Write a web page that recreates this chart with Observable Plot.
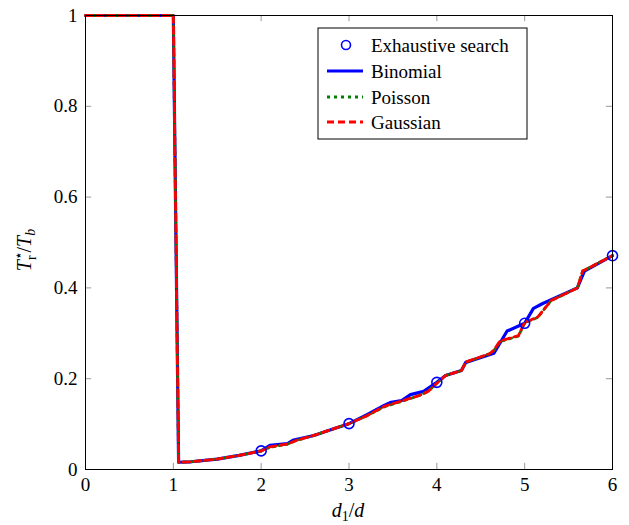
<!DOCTYPE html>
<html>
<head>
<meta charset="utf-8">
<script src="https://cdn.jsdelivr.net/npm/d3@7"></script>
<script src="https://cdn.jsdelivr.net/npm/@observablehq/plot@0.6"></script>
<style>
  html, body { margin: 0; padding: 0; background: #fff; }
  svg text { font-family: "Liberation Serif", "DejaVu Serif", serif !important; }
</style>
</head>
<body>
<div id="chart"></div>
<script>
const xTicks = [0, 1, 2, 3, 4, 5, 6];
const yTicks = [0, 0.2, 0.4, 0.6, 0.8, 1];

const exhaustiveX = [2, 3, 4, 5, 6];
const exhaustiveY = [0.041, 0.101, 0.192, 0.322, 0.471];

const binomialX = [0, 1, 1.06, 1.2, 1.5, 1.75, 2.0, 2.1, 2.3, 2.37, 2.6, 2.8, 3.0, 3.2, 3.4, 3.48, 3.6, 3.7, 3.85, 4.0, 4.1, 4.28, 4.33, 4.65, 4.8, 5.0, 5.1, 5.2, 5.6, 5.68, 6.0];
const binomialY = [1, 1, 0.016, 0.017, 0.023, 0.031, 0.041, 0.053, 0.057, 0.065, 0.075, 0.088, 0.101, 0.12, 0.141, 0.148, 0.152, 0.165, 0.172, 0.192, 0.207, 0.218, 0.236, 0.256, 0.305, 0.322, 0.355, 0.365, 0.40, 0.437, 0.471];

const poissonX = [0, 1, 1.06, 1.2, 1.5, 1.75, 2.0, 2.1, 2.3, 2.4, 2.6, 2.8, 3.0, 3.2, 3.4, 3.6, 3.8, 3.9, 4.0, 4.1, 4.28, 4.33, 4.6, 4.65, 4.72, 4.93, 5.0, 5.15, 5.25, 5.3, 5.6, 5.66, 6.0];
const poissonY = [1, 1, 0.016, 0.017, 0.023, 0.031, 0.041, 0.049, 0.056, 0.064, 0.075, 0.088, 0.101, 0.118, 0.138, 0.150, 0.163, 0.172, 0.19, 0.207, 0.218, 0.236, 0.255, 0.262, 0.282, 0.294, 0.323, 0.335, 0.36, 0.372, 0.40, 0.437, 0.471];

const gaussianX = [0, 1, 1.06, 1.2, 1.5, 1.75, 2.0, 2.1, 2.3, 2.4, 2.6, 2.8, 3.0, 3.2, 3.4, 3.6, 3.8, 3.9, 4.0, 4.1, 4.28, 4.33, 4.6, 4.65, 4.72, 4.93, 5.0, 5.15, 5.25, 5.3, 5.6, 5.66, 6.0];
const gaussianY = [1, 1, 0.016, 0.017, 0.023, 0.031, 0.041, 0.050, 0.056, 0.064, 0.075, 0.088, 0.101, 0.118, 0.139, 0.151, 0.163, 0.172, 0.19, 0.207, 0.218, 0.237, 0.255, 0.263, 0.283, 0.295, 0.324, 0.336, 0.36, 0.372, 0.40, 0.437, 0.471];

const zip = (xs, ys) => xs.map((x, i) => ({x, y: ys[i]}));
const exhaustive = zip(exhaustiveX, exhaustiveY);
const binomial = zip(binomialX, binomialY);
const poisson = zip(poissonX, poissonY);
const gaussian = zip(gaussianX, gaussianY);

const BLUE = "#0000ff", GREEN = "#008000", RED = "#ff0000";
const tickColor = "#999";
const tx = 0.07, ty = 0.0135;
const FONT = "Liberation Serif";

const chart = Plot.plot({
  width: 629,
  height: 525,
  marginLeft: 85,
  marginRight: 17,
  marginTop: 15,
  marginBottom: 56,
  style: {fontFamily: FONT, fontSize: "19px", background: "#fff", overflow: "visible"},
  x: {domain: [0, 6]},
  y: {domain: [0, 1]},
  marks: [
    Plot.ruleX(xTicks, {y1: 0, y2: ty, stroke: tickColor, strokeWidth: 1}),
    Plot.ruleX(xTicks, {y1: 1 - ty, y2: 1, stroke: tickColor, strokeWidth: 1}),
    Plot.ruleY(yTicks, {x1: 0, x2: tx, stroke: tickColor, strokeWidth: 1}),
    Plot.ruleY(yTicks, {x1: 6 - tx, x2: 6, stroke: tickColor, strokeWidth: 1}),
    Plot.axisX({ticks: xTicks, tickSize: 0, tickPadding: 8, label: null, fontSize: 19, fontFamily: FONT, fill: "#000", tickFormat: d => String(d)}),
    Plot.axisY({ticks: yTicks, tickSize: 0, tickPadding: 8, label: null, fontSize: 19, fontFamily: FONT, fill: "#000", tickFormat: d => String(d)}),
    Plot.line(binomial, {x: "x", y: "y", stroke: BLUE, strokeWidth: 3.2, strokeLinejoin: "round"}),
    Plot.line(poisson, {x: "x", y: "y", stroke: GREEN, strokeWidth: 2.8, strokeDasharray: "3,4"}),
    Plot.line(gaussian, {x: "x", y: "y", stroke: RED, strokeWidth: 2.8, strokeDasharray: "7,4"}),
    Plot.dot(exhaustive, {x: "x", y: "y", r: 5, stroke: BLUE, strokeWidth: 1.6, fill: "none"}),
    Plot.frame({stroke: "#000", strokeWidth: 1})
  ]
});

document.getElementById("chart").appendChild(chart);
const svg = d3.select(chart);

// X label: d_1/d
const xl = svg.append("text").attr("x", 348).attr("y", 517).attr("text-anchor", "middle").attr("font-size", 20).attr("fill", "#000");
xl.append("tspan").attr("font-style", "italic").text("d");
xl.append("tspan").attr("font-size", 14).attr("dy", 4).text("1");
xl.append("tspan").attr("dy", -4).text("/");
xl.append("tspan").attr("font-style", "italic").text("d");

// Y label: T*_r / T_b
const yl = svg.append("text").attr("transform", "translate(31,250) rotate(-90)").attr("text-anchor", "middle").attr("font-size", 20).attr("fill", "#000");
yl.append("tspan").attr("font-style", "italic").text("T");
yl.append("tspan").attr("font-size", 14).attr("dy", -8).text("⋆");
yl.append("tspan").attr("font-size", 14).attr("dy", 13).attr("dx", -9).text("r");
yl.append("tspan").attr("dy", -5).attr("dx", 3).text("/");
yl.append("tspan").attr("font-style", "italic").text("T");
yl.append("tspan").attr("font-style", "italic").attr("font-size", 14).attr("dy", 4).text("b");

// Legend
const lg = svg.append("g").attr("text-anchor", "start");
lg.append("rect").attr("x", 318).attr("y", 28).attr("width", 209).attr("height", 111).attr("fill", "#fff").attr("stroke", "#000").attr("stroke-width", 1);
const rows = [
  {label: "Exhaustive search", type: "dot"},
  {label: "Binomial", type: "line", stroke: BLUE, width: 3.2, dash: null},
  {label: "Poisson", type: "line", stroke: GREEN, width: 2.8, dash: "3,4"},
  {label: "Gaussian", type: "line", stroke: RED, width: 2.8, dash: "7,4"}
];
const rowY = [45, 71, 97, 122];
rows.forEach((r, i) => {
  const y = rowY[i];
  if (r.type === "dot") {
    lg.append("circle").attr("cx", 346).attr("cy", y).attr("r", 4.5).attr("fill", "none").attr("stroke", BLUE).attr("stroke-width", 1.6);
  } else {
    const l = lg.append("line").attr("x1", 327).attr("x2", 363).attr("y1", y).attr("y2", y).attr("stroke", r.stroke).attr("stroke-width", r.width);
    if (r.dash) l.attr("stroke-dasharray", r.dash);
  }
  lg.append("text").attr("x", 371).attr("y", y).attr("dy", "0.35em").attr("text-anchor", "start").attr("font-size", 19).attr("fill", "#000").text(r.label);
});
</script>
</body>
</html>
